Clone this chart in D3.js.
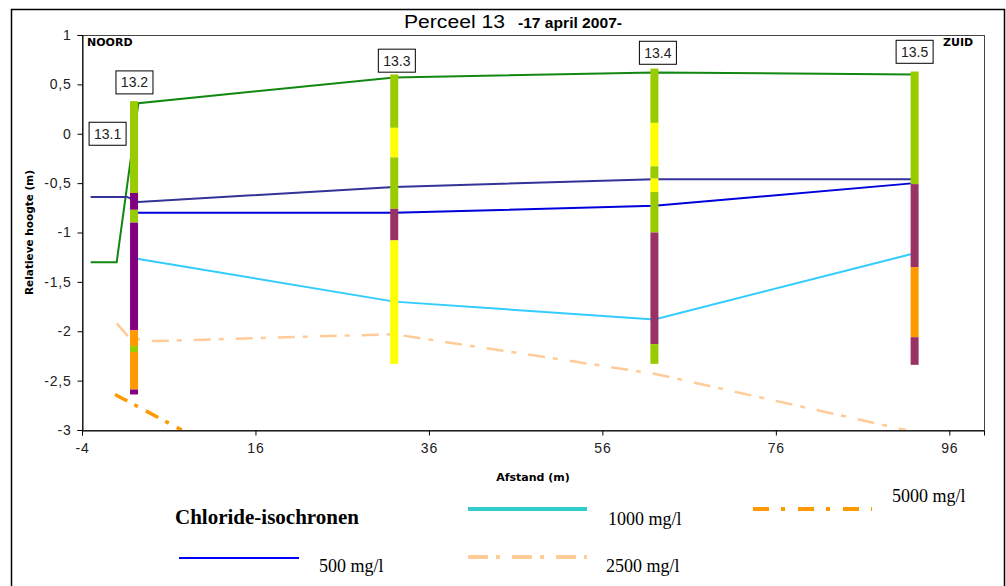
<!DOCTYPE html>
<html>
<head>
<meta charset="utf-8">
<script src="https://cdn.jsdelivr.net/npm/d3@7"></script>
<style>
  body { margin: 0; background: #fff; }
  svg { display: block; }
</style>
</head>
<body>
<div id="chart"></div>
<script>
// axes
const xTicks = [-4, 16, 36, 56, 76, 96];
const yTicks = [-3, -2.5, -2, -1.5, -1, -0.5, 0, 0.5, 1];

// boreholes (afstand in m, grenzen in m)
const boreNames = ["13.2", "13.3", "13.4", "13.5"];
const boreX = [2, 32, 62, 92];
const boreBounds = [
  [0.33, -0.6, -0.77, -0.9, -1.99, -2.15, -2.21, -2.59, -2.64],
  [0.6, 0.06, -0.24, -0.76, -1.08, -2.33],
  [0.66, 0.11, -0.33, -0.45, -0.59, -1.0, -2.13, -2.33],
  [0.63, -0.51, -1.35, -2.06, -2.34]
];
const boreSoil = [
  ["lichtgroen", "paars", "lichtgroen", "paars", "oranje", "lichtgroen", "oranje", "paars"],
  ["lichtgroen", "geel", "lichtgroen", "bordeaux", "geel"],
  ["lichtgroen", "geel", "lichtgroen", "geel", "lichtgroen", "bordeaux", "lichtgroen"],
  ["lichtgroen", "bordeaux", "oranje", "bordeaux"]
];

// lines
const maaiveldX = [-3, 0, 2.5, 32, 62, 92];
const maaiveldY = [-1.3, -1.3, 0.31, 0.57, 0.62, 0.6];
const grondwaterX = [-3, 1.2, 2.5, 32, 62, 92];
const grondwaterY = [-0.64, -0.64, -0.69, -0.54, -0.46, -0.46];
const iso500X = [2, 32, 62, 92];
const iso500Y = [-0.8, -0.8, -0.73, -0.5];
const iso1000X = [2, 32, 62, 92];
const iso1000Y = [-1.26, -1.7, -1.88, -1.21];
const iso2500X = [0, 1.5, 4, 32, 62, 91];
const iso2500Y = [-1.92, -2.07, -2.1, -2.03, -2.43, -3.0];
const iso5000X = [-0.2, 7.5];
const iso5000Y = [-2.64, -3.0];

// point labels
const labelNames = ["13.1", "13.2", "13.3", "13.4", "13.5"];
const labelX = [-1.05, 2.05, 32.3, 62.4, 92];
const labelY = [0, 0.52, 0.74, 0.82, 0.83];

const legendNames = ["500 mg/l", "1000 mg/l", "2500 mg/l", "5000 mg/l"];

const soilColors = {
  lichtgroen: "#99CC00",
  geel: "#FFFF00",
  paars: "#800080",
  bordeaux: "#993366",
  oranje: "#FF9900"
};

const width = 1006, height = 586;
const plot = { left: 82, top: 35, right: 984, bottom: 430 };

const svg = d3.select("#chart").append("svg")
  .attr("width", width)
  .attr("height", height);

// outer frame
svg.append("rect")
  .attr("x", 11.5).attr("y", 9.5)
  .attr("width", 993).attr("height", 600)
  .attr("fill", "none").attr("stroke", "#000").attr("stroke-width", 1.5);

const x = d3.scaleLinear().domain([-4, 100]).range([plot.left, plot.right]);
const y = d3.scaleLinear().domain([-3, 1]).range([plot.bottom, plot.top]);

const nl = d3.formatLocale({ decimal: ",", thousands: ".", grouping: [3], currency: ["€", ""], minus: "-" });
const fmt = nl.format("~g");

// plot area border
svg.append("rect")
  .attr("x", plot.left + 0.5).attr("y", plot.top + 0.5)
  .attr("width", plot.right - plot.left).attr("height", plot.bottom - plot.top)
  .attr("fill", "none").attr("stroke", "#444").attr("stroke-width", 1);

svg.append("clipPath").attr("id", "clip")
  .append("rect")
  .attr("x", plot.left).attr("y", plot.top)
  .attr("width", plot.right - plot.left).attr("height", plot.bottom - plot.top);

// axes
const yAxis = svg.append("g")
  .attr("transform", `translate(${plot.left + 0.5},0)`)
  .call(d3.axisLeft(y).tickValues(yTicks).tickFormat(fmt).tickSizeOuter(0).tickSize(5).tickPadding(6));
const xAxis = svg.append("g")
  .attr("transform", `translate(0,${plot.bottom + 0.5})`)
  .call(d3.axisBottom(x).tickValues(xTicks).tickFormat(fmt).tickSizeOuter(0).tickSize(5).tickPadding(8));

[xAxis, yAxis].forEach(a => {
  a.selectAll("text")
    .style("font-family", "'Liberation Sans', Arial, sans-serif")
    .style("font-size", "14px")
    .style("letter-spacing", "0.8px")
    .attr("fill", "#222");
  a.selectAll("line, path").attr("stroke", "#000");
});

// axis titles
svg.append("text")
  .attr("x", 533).attr("y", 481)
  .attr("text-anchor", "middle")
  .style("font-family", "'DejaVu Sans', Verdana, sans-serif")
  .style("font-weight", "bold")
  .style("font-size", "11px")
  .text("Afstand (m)");

svg.append("text")
  .attr("transform", `translate(33,${(plot.top + plot.bottom) / 2}) rotate(-90)`)
  .attr("text-anchor", "middle")
  .style("font-family", "'DejaVu Sans', Verdana, sans-serif")
  .style("font-weight", "bold")
  .style("font-size", "10.5px")
  .text("Relatieve hoogte (m)");

// title
svg.append("text")
  .attr("x", 404).attr("y", 28)
  .attr("textLength", 101).attr("lengthAdjust", "spacingAndGlyphs")
  .style("font-family", "'Liberation Sans', Arial, sans-serif")
  .style("font-size", "18px")
  .text("Perceel 13");
svg.append("text")
  .attr("x", 518).attr("y", 28)
  .attr("textLength", 104).attr("lengthAdjust", "spacingAndGlyphs")
  .style("font-family", "'Liberation Sans', Arial, sans-serif")
  .style("font-weight", "bold")
  .style("font-size", "14px")
  .text("-17 april 2007-");

// NOORD / ZUID
svg.append("text")
  .attr("x", 87).attr("y", 46)
  .style("font-family", "'DejaVu Sans', Verdana, sans-serif")
  .style("font-weight", "bold").style("font-size", "11px")
  .text("NOORD");
svg.append("text")
  .attr("x", 943).attr("y", 46)
  .style("font-family", "'DejaVu Sans', Verdana, sans-serif")
  .style("font-weight", "bold").style("font-size", "11px")
  .text("ZUID");

// lines
const lineGen = d3.line().x(d => x(d[0])).y(d => y(d[1]));
const lines = svg.append("g").attr("clip-path", "url(#clip)");

function drawLine(xs, ys, color, w, dash) {
  lines.append("path")
    .datum(d3.zip(xs, ys))
    .attr("d", lineGen)
    .attr("fill", "none")
    .attr("stroke", color)
    .attr("stroke-width", w)
    .attr("stroke-dasharray", dash || null);
}

drawLine(maaiveldX, maaiveldY, "#118811", 2);
drawLine(grondwaterX, grondwaterY, "#333399", 2);
drawLine(iso500X, iso500Y, "#0000DD", 2);
drawLine(iso1000X, iso1000Y, "#33CCFF", 2);
drawLine(iso2500X, iso2500Y, "#FFCC99", 2.5, "17,8,5,12");
drawLine(iso5000X, iso5000Y, "#FF9900", 3.5, "14,8,4,9");

// boreholes on top of the lines
const bores = svg.append("g");
boreNames.forEach((name, i) => {
  const bounds = boreBounds[i];
  const segs = boreSoil[i].map((s, j) => ({ top: bounds[j], bot: bounds[j + 1], soil: s }));
  bores.append("g").selectAll("rect")
    .data(segs)
    .enter()
    .append("rect")
    .attr("x", x(boreX[i]) - 4)
    .attr("width", 8)
    .attr("y", d => y(d.top))
    .attr("height", d => y(d.bot) - y(d.top))
    .attr("fill", d => soilColors[d.soil]);
});

// boxed labels
const labels = svg.append("g");
labelNames.forEach((name, i) => {
  const g = labels.append("g")
    .attr("transform", `translate(${x(labelX[i])},${y(labelY[i])})`);
  const rect = g.append("rect");
  const t = g.append("text")
    .attr("text-anchor", "middle")
    .attr("dy", "0.35em")
    .style("font-family", "'Liberation Sans', Arial, sans-serif")
    .style("font-size", "14px")
    .attr("fill", "#222")
    .text(name);
  const bb = t.node().getBBox();
  rect.attr("x", Math.round(bb.x - 5) + 0.5)
    .attr("y", -11.5)
    .attr("width", Math.round(bb.width + 10))
    .attr("height", 23)
    .attr("fill", "#fff")
    .attr("stroke", "#000");
});

// legend
const legend = svg.append("g");
legend.append("text")
  .attr("x", 175).attr("y", 524)
  .style("font-family", "'Liberation Serif', 'Times New Roman', serif")
  .style("font-weight", "bold").style("font-size", "21px")
  .text("Chloride-isochronen");

const legendStyle = [
  { color: "#0000FF", w: 2, dash: null, x1: 179, x2: 299, ly: 558, tx: 319, ty: 572 },
  { color: "#33CCCC", w: 4, dash: null, x1: 468, x2: 587, ly: 509, tx: 608, ty: 525 },
  { color: "#FFCC99", w: 4, dash: "20,8,4,12", x1: 468, x2: 587, ly: 557, tx: 606, ty: 572 },
  { color: "#FF9900", w: 4, dash: "16,12,4,13", x1: 753, x2: 872, ly: 509, tx: 892, ty: 502 }
];
legendNames.forEach((name, i) => {
  const s = legendStyle[i];
  legend.append("line")
    .attr("x1", s.x1).attr("x2", s.x2)
    .attr("y1", s.ly).attr("y2", s.ly)
    .attr("stroke", s.color).attr("stroke-width", s.w)
    .attr("stroke-dasharray", s.dash);
  legend.append("text")
    .attr("x", s.tx).attr("y", s.ty)
    .style("font-family", "'Liberation Serif', 'Times New Roman', serif")
    .style("font-size", "18px")
    .text(name);
});
</script>
</body>
</html>
